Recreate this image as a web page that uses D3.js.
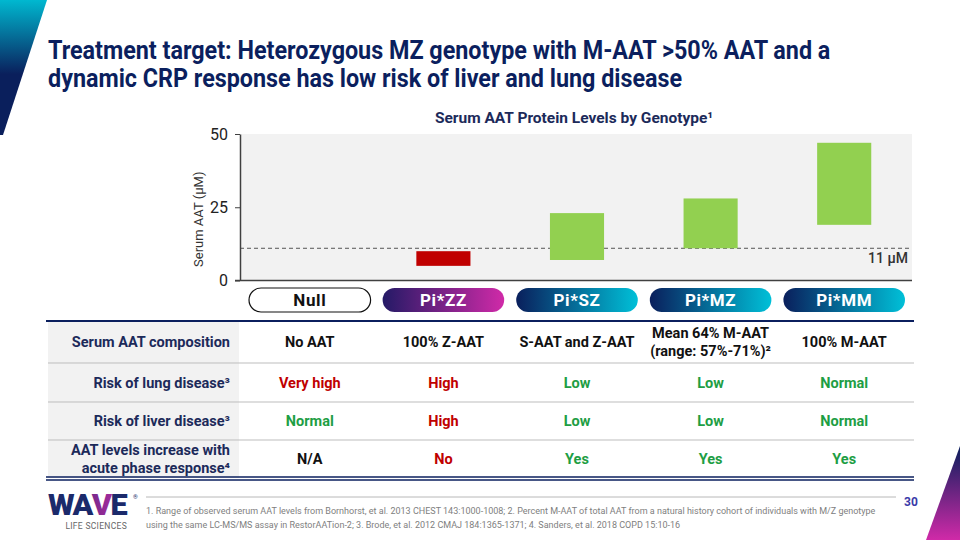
<!DOCTYPE html>
<html>
<head>
<meta charset="utf-8">
<script src="https://cdn.jsdelivr.net/npm/d3@7"></script>
<style>
  html, body { margin: 0; padding: 0; background: #fff; }
  svg { display: block; font-family: Roboto, "Noto Sans", sans-serif; }
</style>
</head>
<body>
<div id="chart"></div>
<script>
// ---- data ----
const genotypes = ['Null', 'Pi*ZZ', 'Pi*SZ', 'Pi*MZ', 'Pi*MM'];
const aatLow = [null, 5, 7, 11, 19];
const aatHigh = [null, 10, 23, 28, 47];
const yTicks = [0, 25, 50];
const threshold = 11;

const rowLabels = [
    ['Serum AAT composition'],
    ['Risk of lung disease³'],
    ['Risk of liver disease³'],
    ['AAT levels increase with', 'acute phase response⁴']
];
const composition = [['No AAT'], ['100% Z-AAT'], ['S-AAT and Z-AAT'], ['Mean 64% M-AAT', '(range:  57%-71%)²'], ['100% M-AAT']];
const lungRisk = ['Very high', 'High', 'Low', 'Low', 'Normal'];
const liverRisk = ['Normal', 'High', 'Low', 'Low', 'Normal'];
const acuteResponse = ['N/A', 'No', 'Yes', 'Yes', 'Yes'];

const footnotes = [
    '1.  Range of observed serum AAT levels from Bornhorst, et al. 2013 CHEST 143:1000-1008;  2. Percent M-AAT of total AAT from a natural history cohort of individuals with M/Z genotype',
    'using the same LC-MS/MS assay in RestorAATion-2; 3. Brode, et al. 2012 CMAJ 184:1365-1371; 4. Sanders, et al. 2018 COPD 15:10-16'
];

// ---- colours ----
const navy = '#0b1f5e';
const textDark = '#1c2a5a';
const red = '#c00000';
const green = '#1e9e44';
const barGreen = '#92d050';
const valueColor = {
    'Very high': red, 'High': red, 'No': red,
    'Low': green, 'Normal': green, 'Yes': green
};

const W = 960, H = 540;
const svg = d3.select('#chart').append('svg').attr('width', W).attr('height', H);
const defs = svg.append('defs');

function linGrad(id, stops, x2 = '100%', y2 = '0%') {
    const g = defs.append('linearGradient').attr('id', id)
        .attr('x1', '0%').attr('y1', '0%').attr('x2', x2).attr('y2', y2);
    stops.forEach(s => g.append('stop').attr('offset', s[0]).attr('stop-color', s[1]));
}
linGrad('gCyan', [['0%', '#0a1f5c'], ['100%', '#00c0d8']]);
linGrad('gMag', [['0%', '#241a66'], ['100%', '#d02aa8']]);
linGrad('gTopLeft', [['0%', '#00b8d0'], ['55%', '#0a1f5c'], ['100%', '#0a1f5c']], '0%', '100%');
linGrad('gBotRight', [['0%', '#0a1f5c'], ['100%', '#d02aa8']], '0%', '100%');
linGrad('gLogo', [['0%', '#1b2a6b'], ['100%', '#c42aa8']]);

// squeeze text horizontally so it fits a target width (condensed look)
function fitWidth(sel, target) {
    const w = sel.node().getComputedTextLength();
    return target / w;
}

// ---- corner decorations ----
svg.append('polygon').attr('points', '0,0 47,0 3,135 0,135').attr('fill', 'url(#gTopLeft)');
svg.append('polygon').attr('points', '960,446 960,540 926,540').attr('fill', 'url(#gBotRight)');

// ---- title ----
const titleLines = [
    'Treatment target: Heterozygous MZ genotype with M-AAT >50% AAT and a',
    'dynamic CRP response has low risk of liver and lung disease'
];
const titleG = svg.append('g');
const t1 = titleG.append('text').attr('font-size', 26).attr('font-weight', 700).attr('fill', navy).text(titleLines[0]);
const k = fitWidth(t1, 783);
t1.remove();
titleLines.forEach((line, i) => {
    titleG.append('text')
        .attr('transform', `translate(48,${59 + i * 28}) scale(${k},1)`)
        .attr('font-size', 26).attr('font-weight', 700).attr('fill', navy)
        .text(line);
});

// ---- chart ----
const plot = { left: 240, right: 912, top: 134, bottom: 280.5 };
const x = d3.scaleBand().domain(genotypes).range([243, 911]).paddingInner(0.09).paddingOuter(0.045);
const y = d3.scaleLinear().domain([0, 50]).range([plot.bottom, plot.top]);
const cx = d => x(d) + x.bandwidth() / 2;

svg.append('text')
    .attr('x', 574).attr('y', 123).attr('text-anchor', 'middle')
    .attr('font-size', 15.5).attr('font-weight', 700).attr('fill', textDark)
    .text('Serum AAT Protein Levels by Genotype¹');

svg.append('rect')
    .attr('x', plot.left).attr('y', plot.top)
    .attr('width', plot.right - plot.left).attr('height', plot.bottom - plot.top)
    .attr('fill', '#f2f2f2');

// threshold
svg.append('line')
    .attr('x1', plot.left).attr('x2', plot.right)
    .attr('y1', y(threshold)).attr('y2', y(threshold))
    .attr('stroke', '#555').attr('stroke-width', 1).attr('stroke-dasharray', '4,3');
svg.append('text')
    .attr('x', 908).attr('y', y(threshold) + 15).attr('text-anchor', 'end')
    .attr('font-size', 14).attr('font-weight', 500).attr('fill', '#333')
    .text(`${threshold} µM`);

// range bars
genotypes.forEach((g, i) => {
    if (aatLow[i] == null) return;
    const bw = x.bandwidth() * 0.445;
    svg.append('rect')
        .attr('x', cx(g) - bw / 2).attr('width', bw)
        .attr('y', y(aatHigh[i])).attr('height', y(aatLow[i]) - y(aatHigh[i]))
        .attr('fill', aatHigh[i] < threshold ? red : barGreen);
});

// axes
const yAxis = svg.append('g')
    .attr('transform', `translate(${plot.left},0)`)
    .call(d3.axisLeft(y).tickValues(yTicks).tickSize(5).tickSizeOuter(0).tickPadding(7));
yAxis.select('.domain').attr('stroke', '#404040').attr('stroke-width', 1.5);
yAxis.selectAll('.tick line').attr('stroke', '#404040');
yAxis.selectAll('.tick text').attr('font-size', 16).attr('fill', '#222').attr('font-family', 'Roboto, sans-serif');

svg.append('line')
    .attr('x1', plot.left - 5).attr('x2', plot.right)
    .attr('y1', y(0)).attr('y2', y(0))
    .attr('stroke', '#404040').attr('stroke-width', 1.5);

svg.append('text')
    .attr('transform', `translate(203,${(plot.top + plot.bottom) / 2 + 12}) rotate(-90)`)
    .attr('text-anchor', 'middle').attr('font-size', 13).attr('fill', '#333')
    .text('Serum AAT (µM)');

// genotype pills
const pillY = 288, pillH = 24;
genotypes.forEach((g, i) => {
    const isNull = i === 0;
    svg.append('rect')
        .attr('x', x(g)).attr('y', pillY)
        .attr('width', x.bandwidth()).attr('height', pillH)
        .attr('rx', pillH / 2)
        .attr('fill', isNull ? '#fff' : (g === 'Pi*ZZ' ? 'url(#gMag)' : 'url(#gCyan)'))
        .attr('stroke', isNull ? '#111' : 'none').attr('stroke-width', 1.2);
    svg.append('text')
        .attr('x', cx(g)).attr('y', pillY + pillH / 2 + 6)
        .attr('text-anchor', 'middle')
        .attr('font-size', 17).attr('font-weight', 700).attr('letter-spacing', 0.6)
        .attr('fill', isNull ? '#111' : '#fff')
        .text(g);
});

// ---- table ----
const tbl = { left: 46, right: 914, labelRight: 239, rows: [321, 363, 402, 440, 478] };
const rowValues = [composition, lungRisk, liverRisk, acuteResponse];

svg.append('rect')
    .attr('x', 48).attr('y', tbl.rows[0])
    .attr('width', tbl.labelRight - 48).attr('height', tbl.rows[4] - tbl.rows[0])
    .attr('fill', '#f2f2f2');

tbl.rows.slice(1, 4).forEach(ry => {
    svg.append('line')
        .attr('x1', 48).attr('x2', tbl.right).attr('y1', ry).attr('y2', ry)
        .attr('stroke', '#bdbdbd').attr('stroke-width', 1);
});
svg.append('line')
    .attr('x1', tbl.left).attr('x2', tbl.right).attr('y1', tbl.rows[0]).attr('y2', tbl.rows[0])
    .attr('stroke', navy).attr('stroke-width', 2.2);
[tbl.rows[4] - 1, tbl.rows[4] + 2].forEach(ry => {
    svg.append('line')
        .attr('x1', tbl.left).attr('x2', tbl.right).attr('y1', ry).attr('y2', ry)
        .attr('stroke', navy).attr('stroke-width', 1.3);
});

function multiline(xp, yc, lines, anchor, color) {
    const lh = 17.5;
    const t = svg.append('text')
        .attr('text-anchor', anchor).attr('font-size', 14.5).attr('font-weight', 700)
        .attr('fill', color);
    lines.forEach((ln, j) => {
        t.append('tspan')
            .attr('x', xp)
            .attr('y', yc + 5 + (j - (lines.length - 1) / 2) * lh)
            .text(ln);
    });
}

rowLabels.forEach((lab, r) => {
    const yc = (tbl.rows[r] + tbl.rows[r + 1]) / 2;
    multiline(230, yc, lab, 'end', textDark);
    rowValues[r].forEach((v, i) => {
        const lines = Array.isArray(v) ? v : [v];
        const col = r === 0 ? '#111' : (valueColor[v] || '#111');
        multiline(cx(genotypes[i]), yc, lines, 'middle', col);
    });
});

// ---- footer ----
svg.append('line')
    .attr('x1', 146).attr('x2', 896).attr('y1', 497).attr('y2', 497)
    .attr('stroke', '#a6a6a6').attr('stroke-width', 0.8);
svg.append('text')
    .attr('x', 904).attr('y', 506)
    .attr('font-size', 12).attr('font-weight', 700).attr('fill', '#3a3aa8')
    .text('30');
footnotes.forEach((fn, i) => {
    svg.append('text')
        .attr('x', 146).attr('y', 514 + i * 14)
        .attr('font-size', 9).attr('fill', '#808080')
        .text(fn);
});

// logo
const logo = svg.append('text')
    .attr('font-size', 30).attr('font-weight', 900).attr('letter-spacing', -1.5).attr('fill', '#1b2a6b');
logo.append('tspan').text('WA');
logo.append('tspan').attr('fill', 'url(#gLogo)').text('V');
logo.append('tspan').text('E');
const lk = fitWidth(logo, 77);
logo.attr('transform', `translate(48,515) scale(${lk},1)`);
svg.append('text')
    .attr('x', 133).attr('y', 499).attr('font-size', 6).attr('fill', '#1b2a6b').text('®');
svg.append('text')
    .attr('x', 127).attr('y', 529).attr('text-anchor', 'end')
    .attr('font-size', 8.5).attr('letter-spacing', 0.3).attr('fill', '#666')
    .text('LIFE SCIENCES');
</script>
</body>
</html>
